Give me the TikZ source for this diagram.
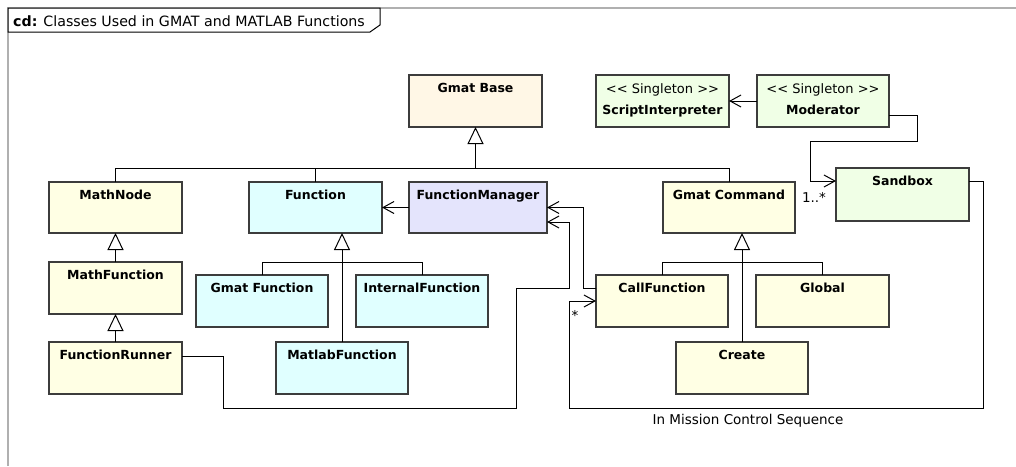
\documentclass[tikz,border=0pt]{standalone}
\usepackage{fontspec}
\setmainfont{DejaVu Sans}
\usetikzlibrary{arrows.meta}

\definecolor{boxline}{RGB}{60,60,60}
\definecolor{framegray}{RGB}{176,176,176}
\definecolor{basefill}{RGB}{255,247,230}
\definecolor{sysfill}{RGB}{240,255,230}
\definecolor{cmdfill}{RGB}{255,255,228}
\definecolor{fnfill}{RGB}{224,255,255}
\definecolor{mgrfill}{RGB}{228,228,252}

% class box: name, x1, y1, x2, y2, fill, title
\newcommand\umlclass[7]{%
  \node[cls, fill=#6, minimum width={(#4-#2)*1pt}, minimum height={(#5-#3)*1pt}]
    (#1) at ({(#2+#4)/2},{(#3+#5)/2}) {};
  \node[clsname, anchor=base] (#1-name) at ({(#2+#4)/2},{#3+17.5}) {#7};
}
% singleton class box: same arguments, stereotype above the title
\newcommand\umlsingleton[7]{%
  \node[cls, fill=#6, minimum width={(#4-#2)*1pt}, minimum height={(#5-#3)*1pt}]
    (#1) at ({(#2+#4)/2},{(#3+#5)/2}) {};
  \node[stereo, anchor=base] (#1-stereo) at ({(#2+#4)/2},{#3+18}) {<\kern0pt< Singleton >\kern0pt>};
  \node[clsname, anchor=base] (#1-name) at ({(#2+#4)/2},{#3+39}) {#7};
}

\begin{document}
\begin{tikzpicture}[x=1pt, y=-1pt,
  cls/.style={draw=boxline, line width=1.2pt, inner sep=0pt, outer sep=0pt},
  clsname/.style={font=\fontsize{12.5}{15}\selectfont\bfseries, inner sep=0pt},
  stereo/.style={font=\fontsize{13}{15}\selectfont, inner sep=0pt},
  lbl/.style={font=\fontsize{13.5}{16}\selectfont, inner sep=0pt},
  conn/.style={draw=black, line width=1pt},
  gen/.style={conn, -{Triangle[open, length=17pt, width=16pt]}},
  nav/.style={conn, -{Straight Barb[length=11pt, width=12pt]}}]

\useasboundingbox (0,0) rectangle (1016,466);
\fill[white] (0,0) rectangle (1016,466);

% diagram frame and its name tab
\draw[framegray, line width=2pt] (8,466) -- (8,8) -- (1016,8);
\draw[black, line width=1pt, fill=white] (8,8) -- (380,8) -- (380,25) -- (370,32) -- (8,32) -- cycle;
\node[font=\fontsize{14.2}{16}\selectfont, anchor=base west, inner sep=0pt] (title) at (13,26.5)
  {\textbf{cd:} Classes Used in GMAT and MATLAB Functions};

% classes
\umlclass{GmatBase}{409}{75}{542}{127}{basefill}{Gmat Base}
\umlsingleton{ScriptInterpreter}{596}{75}{729}{127}{sysfill}{ScriptInterpreter}
\umlsingleton{Moderator}{757}{75}{889}{127}{sysfill}{Moderator}
\umlclass{MathNode}{49}{182}{182}{233}{cmdfill}{MathNode}
\umlclass{Function}{249}{182}{382}{233}{fnfill}{Function}
\umlclass{FunctionManager}{409}{182}{547}{233}{mgrfill}{FunctionManager}
\umlclass{GmatCommand}{663}{182}{795}{233}{cmdfill}{Gmat Command}
\umlclass{Sandbox}{836}{168}{969}{221}{sysfill}{Sandbox}
\umlclass{MathFunction}{49}{262}{182}{314}{cmdfill}{MathFunction}
\umlclass{GmatFunction}{196}{275}{328}{327}{fnfill}{Gmat Function}
\umlclass{InternalFunction}{356}{275}{488}{327}{fnfill}{InternalFunction}
\umlclass{CallFunction}{596}{275}{728}{327}{cmdfill}{CallFunction}
\umlclass{Global}{756}{275}{889}{327}{cmdfill}{Global}
\umlclass{FunctionRunner}{49}{342}{182}{394}{cmdfill}{FunctionRunner}
\umlclass{MatlabFunction}{276}{342}{408}{394}{fnfill}{MatlabFunction}
\umlclass{Create}{676}{342}{808}{394}{cmdfill}{Create}

% bend points of the connectors
\coordinate (bus) at (476,168);
\coordinate (fbus) at (342,262);
\coordinate (cbus) at (743,262);
\coordinate (sbA) at (917,141);
\coordinate (sbB) at (810,141);
\coordinate (mcs) at (983,408);
\coordinate (mcsL) at (569,408);
\coordinate (frA) at (223,408);
\coordinate (frB) at (516,288);
\coordinate (frC) at (569,222);

% inheritance from GmatBase
\draw[conn] (MathNode.north) |- (GmatCommand.north |- bus) -- (GmatCommand.north);
\draw[conn] (Function.north) -- (Function.north |- bus);
\draw[gen] (GmatBase.south |- bus) -- (GmatBase.south);

% math node chain
\draw[gen] (MathFunction.north) -- (MathNode.south);
\draw[gen] (FunctionRunner.north) -- (MathFunction.south);

% function kinds
\draw[conn] (GmatFunction.north) |- (InternalFunction.north |- fbus) -- (InternalFunction.north);
\draw[gen] (MatlabFunction.north) -- (MatlabFunction.north |- Function.south);

% commands
\draw[conn] (CallFunction.north) |- (Global.north |- cbus) -- (Global.north);
\draw[gen] (Create.north) -- (Create.north |- GmatCommand.south);

% associations
\draw[nav] (Moderator.west) -- (ScriptInterpreter.east);
\draw[nav] (FunctionManager.west) -- (Function.east);
\draw[nav] ([yshift=-14pt]Moderator.east) -| (sbA) -- (sbB) |- ([yshift=13.5pt]Sandbox.west);
\node[lbl, anchor=base] (mult) at (814,202) {1..*};

\draw[nav] ([yshift=13.5pt]Sandbox.east) -| (mcs) -- (mcsL) |- (CallFunction.west);
\node[lbl, anchor=base] (many) at (575,320) {*};
\node[lbl, anchor=base] (mcslabel) at (748,424) {In Mission Control Sequence};

\draw[nav] ([yshift=13pt]CallFunction.west) -| ([xshift=36pt]FunctionManager.east) -- (FunctionManager.east);
\draw[nav] ([yshift=12pt]FunctionRunner.east) -| (frA) -| (frB) -| (frC) -- ([yshift=-14.5pt]FunctionManager.east);

\end{tikzpicture}
\end{document}
